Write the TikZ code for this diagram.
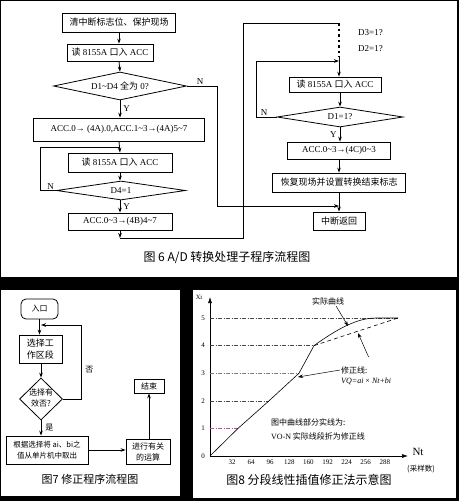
\documentclass[tikz,border=0pt]{standalone}
\usepackage{fontspec}
\setmainfont{Liberation Serif}
\newfontfamily\cjk{Noto Sans CJK SC}
\usepackage{tikz}
\usetikzlibrary{shapes.geometric, arrows.meta, positioning, calc}
\definecolor{panelblack}{RGB}{0,0,0}
\definecolor{gridgray}{RGB}{70,70,70}
\definecolor{gridpink}{RGB}{150,105,140}
\newcommand{\zh}[1]{{\cjk #1}}
\newcommand{\tld}{\textasciitilde}
\newcommand{\fsz}[2]{\fontsize{#1}{#2}\selectfont}

\begin{document}
\begin{tikzpicture}[x=1pt, y=-1pt, >={Stealth[length=5pt, width=3.6pt]},
  box/.style={draw, line width=0.8pt, inner sep=0pt, font=\fsz{9}{11}},
  dia/.style={draw, diamond, aspect=4, inner sep=0pt, line width=0.8pt, font=\fsz{9}{11}},
  pbox/.style={draw, line width=0.8pt, inner sep=0pt, align=center, font=\cjk\fsz{8}{11}},
  flow/.style={->, line width=0.8pt},
  wire/.style={line width=0.8pt},
  tag/.style={font=\fsz{9}{9}, inner sep=1pt},
  note/.style={font=\cjk\fsz{8}{8}, inner sep=1pt},
  grid/.style={line width=0.6pt, dash pattern=on 4pt off 1.5pt on 1pt off 1.5pt}]
  \useasboundingbox (0,0) rectangle (459,501);
  % panels
  \fill[panelblack] (0,0) rectangle (459,501);
  \fill[white] (1,1) rectangle (457,277);
  \fill[white] (1,290) rectangle (180,496);
  \fill[white] (193,290) rectangle (456,498);

  % fig 6, left column
  \node[box, minimum width=113pt, minimum height=19pt] (save) at (119,22.5) {\zh{清中断标志位、保护现场}};
  \node[box, minimum width=86pt, minimum height=17pt] (rdA) at (110,52.5) {\zh{读} 8155A \zh{口入} ACC};
  \node[dia, minimum width=133pt, minimum height=28pt] (allz) at (120,86) {\makebox[0pt]{D1\tld D4 \zh{全为} 0?}};
  \node[box, minimum width=171pt, minimum height=23pt] (accA) at (119,129.5) {ACC.0→ (4A).0,ACC.1\tld 3→(4A)5\tld 7};
  \node[box, minimum width=104pt, minimum height=19pt] (rdB) at (120,162.5) {\zh{读} 8155A \zh{口入} ACC};
  \node[dia, minimum width=129pt, minimum height=19pt] (dfour) at (121,190.5) {\makebox[0pt]{D4=1}};
  \node[box, minimum width=104pt, minimum height=17pt] (accB) at (120,221.5) {ACC.0\tld 3→(4B)4\tld 7};
  % fig 6, right column
  \node[box, minimum width=92pt, minimum height=15pt] (rdC) at (335,84.5) {\zh{读} 8155A \zh{口入} ACC};
  \node[dia, minimum width=126pt, minimum height=20pt] (done) at (340,117) {\makebox[0pt]{D1=1?}};
  \node[box, minimum width=103pt, minimum height=17pt] (accC) at (339,150.5) {ACC.0\tld 3→(4C)0\tld 3};
  \node[box, minimum width=133pt, minimum height=19pt] (rest) at (339,182.5) {\zh{恢复现场并设置转换结束标志}};
  \node[box, minimum width=52pt, minimum height=18pt] (iret) at (339,221) {\zh{中断返回}};
  \node[tag, anchor=west] (dthree) at (357,33) {D3=1?};
  \node[tag, anchor=west] (dtwo) at (357,49) {D2=1?};
  \coordinate (loopL) at (40,147);
  \coordinate (joinL) at (120,147);
  \coordinate (cornerA) at (120,238);
  \coordinate (cornerB) at (243,238);
  \coordinate (cornerC) at (243,23);
  \coordinate (dotTop) at (339,23);
  \coordinate (dotEnd) at (339,57);
  \coordinate (loopR) at (256,61);
  \coordinate (joinR) at (339,61);
  \coordinate (skipA) at (217,206);
  \coordinate (joinS) at (339,206);

  \draw[flow] (save.south) -- (save.south |- rdA.north);
  \draw[flow] (save.south |- rdA.south) -- (allz.north);
  \draw[flow] (allz.south) -- (allz.south |- accA.north) node[tag, midway, right=2pt] {Y};
  \draw[flow] (accA.south) -- (rdB.north);
  \draw[flow] (rdB.south) -- (dfour.north -| rdB.south);
  \draw[flow] (dfour.south -| accB.north) -- (accB.north) node[tag, midway, right=2pt] {Y};
  \draw[wire] (dfour.west) -| (loopL) -- (joinL);
  \node[tag, above left=0pt and 1pt of dfour.west] (nfour) {N};
  \draw[flow] (allz.east) -| (skipA) node[tag, pos=0.22, above] {N} -- (joinS);
  \draw[flow] (accB.south) -- (cornerA);
  \draw[wire] (cornerA) -- (cornerB) -- (cornerC) -- (dotTop);
  \draw[line width=1.3pt, dash pattern=on 2.5pt off 3pt] (dotTop) -- (dotEnd);
  \draw[flow] (dotEnd) -- (dotEnd |- rdC.north);
  \draw[flow] (done.north |- rdC.south) -- (done.north);
  \draw[flow] (done.west) -| (loopR) node[tag, pos=0.3, above] {N} -- (joinR);
  \draw[flow] (done.south) -- (done.south |- accC.north) node[tag, midway, left=2pt] {Y};
  \draw[flow] (accC.south) -- (rest.north);
  \draw[flow] (rest.south) -- (iret.north);
  \node[font=\cjk\fsz{12}{12}] (capA) at (227,257) {图 6 A/D 转换处理子程序流程图};

  % fig 7
  \node[pbox, rounded corners=5pt, minimum width=37pt, minimum height=20pt] (entry) at (39.5,309) {入口};
  \node[pbox, minimum width=43pt, minimum height=28pt, font=\cjk\fsz{9}{12.5}] (zone) at (40.5,349) {选择工\\作区段};
  \node[draw, diamond, aspect=1, inner sep=0pt, line width=0.8pt, minimum width=43pt, minimum height=42pt,
    font=\cjk\fsz{8}{11}] (valid) at (41,399) {\makebox[0pt]{\begin{tabular}{@{}c@{}}选择有\\效否?\end{tabular}}};
  \node[pbox, minimum width=82pt, minimum height=28pt, font=\cjk\fsz{7.5}{11.5}] (fetch) at (47,450) {根据选择将 ai、bi之\\值从单片机中取出};
  \node[pbox, minimum width=44pt, minimum height=25pt] (calc) at (148,451.5) {进行有关\\的运算};
  \node[pbox, minimum width=30pt, minimum height=14pt] (fin) at (149,386) {结束};
  \coordinate (backR) at (81,325);
  \coordinate (backL) at (41,325);
  \draw[flow] (entry.south) -- (entry.south |- zone.north);
  \draw[flow] (zone.south -| valid.north) -- (valid.north);
  \draw[flow] (valid.east) -| (backR) node[note, pos=0.7, right=3pt] {否} -- (backL);
  \draw[flow] (valid.south) -- (valid.south |- fetch.north) node[note, midway, right=3pt] {是};
  \draw[flow] (fetch.east) -- (calc.west |- fetch.east);
  \draw[flow] (calc.north -| fin.south) -- (fin.south);
  \node[font=\cjk\fsz{11}{11}] (capB) at (90,479) {图7 修正程序流程图};

  % fig 8: axes and levels
  \coordinate (org) at (210,456);
  \draw[-{Latex[length=6pt, width=4pt]}, line width=0.6pt] (org) -- (210,297);
  \draw[-{Latex[length=6pt, width=4pt]}, line width=0.6pt] (org) -- (408,456);
  \foreach \k/\xe/\c in {1/238/gridpink, 2/269/gridgray, 3/299/gridpink, 4/314/gridgray, 5/398/gridgray} {
    \draw[grid, \c] (210,{456-27.6*\k}) -- (\xe,{456-27.6*\k});
    \node[font=\fsz{7}{7}] at (203,{456-27.6*\k}) {\k};
  }
  \node[font=\fsz{7}{7}] (zero) at (203,456) {0};
  \foreach \n [count=\i] in {32,64,...,288}
    \node[font=\fsz{7}{7}] at ({232+19.1*(\i-1)},462) {\n};
  \node[font=\fsz{6.5}{6.5}] (xi) at (199,297) {Xi};
  \node[font=\fsz{11}{11}] (nt) at (418,452) {Nt};
  \node[font=\cjk\fsz{7.5}{7.5}] (unit) at (421,469) {(采样数)};
  % actual curve and correction line
  \draw[line width=0.6pt] (org) -- (238,428.4) -- (269,400.8) -- (299,373.2) -- (314,345.6)
    .. controls (336,330) and (356,318) .. (376,318) -- (398,318);
  \draw[line width=0.6pt, dash pattern=on 4pt off 3pt] (314,345.6) -- (398,318);
  \node[note] (realc) at (328,301) {实际曲线};
  \node[note, anchor=west] (fixl) at (340,370) {修正线:};
  \node[font=\fsz{8}{8}, anchor=west, inner sep=1pt] (formula) at (340,381) {\textit{VQ=ai} × \textit{Nt+bi}};
  \coordinate (onReal) at (348,326);
  \coordinate (onFix) at (358,333);
  \coordinate (onLow) at (298,377);
  \draw[->, line width=0.5pt] ([xshift=8pt]realc.south) -- (onReal);
  \draw[->, line width=0.5pt] ([yshift=8pt]fixl.north east) -- (onFix);
  \draw[->, line width=0.5pt] (fixl.west) -- (onLow);
  \node[note, anchor=west] (noteA) at (270,422) {图中曲线部分实线为:};
  \node[note, anchor=west] (noteB) at (270,436) {{\rmfamily VO-N} 实际线段折为修正线};
  \node[font=\cjk\fsz{12}{12}] (capC) at (309,480) {图8 分段线性插值修正法示意图};
\end{tikzpicture}
\end{document}
